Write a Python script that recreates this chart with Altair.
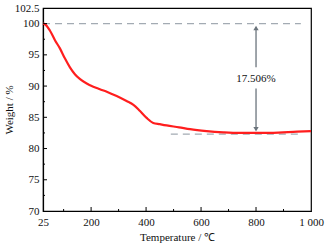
import altair as alt
import pandas as pd

temp = [25, 32, 50, 69, 87, 105, 123, 141, 160, 184, 208, 232, 257, 293, 329, 354,
        378, 402, 426, 450, 475, 520, 560, 620, 681, 740, 802, 850, 898, 950, 1000]
weight = [100, 99.9, 98.9, 97.3, 96.0, 94.4, 93.0, 91.9, 91.1, 90.4, 89.9, 89.5, 89.1, 88.4,
          87.6, 87.0, 86.0, 84.9, 84.1, 83.9, 83.7, 83.4, 83.1, 82.8, 82.6, 82.5, 82.5, 82.5,
          82.6, 82.7, 82.8]

x_major = [25, 200, 400, 600, 800, 1000]
x_minor = [100, 300, 500, 700, 900]
y_major = [70, 75, 80, 85, 90, 95, 100, 102.5]
y_minor = [72.5, 77.5, 82.5, 87.5, 92.5, 97.5]

top_ref = {"x": 25, "x2": 963, "y": 100}
bot_ref = {"x": 490, "x2": 963, "y": 82.3}
arrow_x = 800
arrow_top = 100
arrow_bot = 82.4
label_text = "17.506%"
label_y = 91.2
gap = (93.0, 89.6)

W, H = 268, 203
FONT = "Liberation Serif"

xs = alt.Scale(domain=[25, 1000], nice=False, zero=False)
ys = alt.Scale(domain=[70, 102.5], nice=False, zero=False)

x_axis = alt.Axis(values=x_major, ticks=False, grid=False,
                  labelExpr="datum.value == 1000 ? '1 000' : datum.label",
                  title="Temperature / ℃", labelPadding=5, titlePadding=4, labelFlush=False,
                  labelOverlap=False)
y_axis = alt.Axis(values=y_major, ticks=False, grid=False, format=".1~f",
                  title="Weight / %", labelPadding=4, titlePadding=0, labelOverlap=False,
                  labelFlush=False)


def X(f):
    return alt.X(f, scale=xs, axis=x_axis)


def Y(f):
    return alt.Y(f, scale=ys, axis=y_axis)


curve_df = pd.DataFrame({"T": temp, "W": weight})
curve = alt.Chart(curve_df).mark_line(color="#ff1e1e", strokeWidth=2.2, interpolate="monotone").encode(
    x=X("T:Q"), y=Y("W:Q"))

ref_df = pd.DataFrame([top_ref, bot_ref])
refs = alt.Chart(ref_df).mark_rule(color="#a3abb3", strokeWidth=1.1, strokeDash=[7, 5]).encode(
    x=X("x:Q"), x2="x2:Q", y=Y("y:Q"))

seg_df = pd.DataFrame({"x": [arrow_x, arrow_x], "y": [arrow_top - 0.6, gap[1]],
                       "y2": [gap[0], arrow_bot + 0.6]})
segs = alt.Chart(seg_df).mark_rule(color="#6b747c", strokeWidth=1.3).encode(
    x=X("x:Q"), y=Y("y:Q"), y2="y2:Q")

head_df = pd.DataFrame({"x": [arrow_x, arrow_x], "y": [arrow_top - 0.7, arrow_bot + 0.7],
                        "s": ["triangle-up", "triangle-down"]})
heads = alt.Chart(head_df).mark_point(filled=True, color="#6b747c", size=28, opacity=1).encode(
    x=X("x:Q"), y=Y("y:Q"),
    shape=alt.Shape("s:N", scale=alt.Scale(domain=["triangle-up", "triangle-down"],
                                           range=["triangle-up", "triangle-down"]), legend=None))

lab = alt.Chart(pd.DataFrame({"x": [arrow_x], "y": [label_y], "t": [label_text]})).mark_text(
    font=FONT, fontSize=11, color="#111111").encode(
    x=X("x:Q"), y=Y("y:Q"), text="t:N")

xt_maj = alt.Chart(pd.DataFrame({"x": x_major[1:-1]})).mark_rule(color="black", strokeWidth=1).encode(
    x=X("x:Q"), y=alt.value(H), y2=alt.value(H - 4))
xt_min = alt.Chart(pd.DataFrame({"x": x_minor})).mark_rule(color="black", strokeWidth=1).encode(
    x=X("x:Q"), y=alt.value(H), y2=alt.value(H - 2))
yt_maj = alt.Chart(pd.DataFrame({"y": y_major[1:-1]})).mark_rule(color="black", strokeWidth=1).encode(
    y=Y("y:Q"), x=alt.value(0), x2=alt.value(4))
yt_min = alt.Chart(pd.DataFrame({"y": y_minor})).mark_rule(color="black", strokeWidth=1).encode(
    y=Y("y:Q"), x=alt.value(0), x2=alt.value(2))

chart = alt.layer(refs, curve, segs, heads, lab, xt_maj, xt_min, yt_maj, yt_min).properties(
    width=W, height=H, autosize=alt.AutoSizeParams(type="none"),
    padding={"left": 43, "top": 8, "right": 15, "bottom": 36}, background="white"
).configure_view(stroke="black", strokeWidth=1.2).configure_axis(
    domainColor="black", domainWidth=1.2, labelFont=FONT, titleFont=FONT, labelFontSize=11,
    titleFontSize=11, titleFontWeight="normal", labelColor="#111111", titleColor="#111111"
)

chart.save("out.html", embed_options={"renderer": "svg", "actions": False})
